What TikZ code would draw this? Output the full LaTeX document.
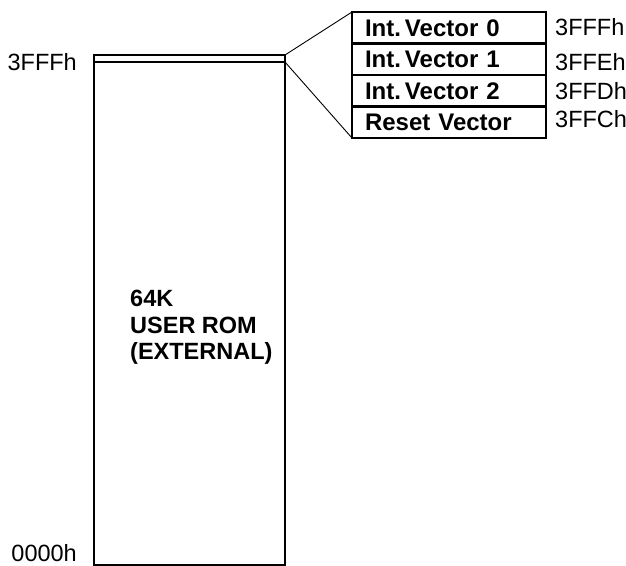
\documentclass[tikz,border=0pt]{standalone}
\usepackage{fontspec}
\setmainfont{Liberation Sans}
\usetikzlibrary{positioning}

\begin{document}
\begin{tikzpicture}[
    x=1pt, y=-1pt,
    font=\fontsize{23.5}{26}\selectfont,
    rombox/.style={draw, line width=2.6pt, rectangle, minimum width=191pt, minimum height=510pt, inner sep=0pt, outer sep=0pt},
    vecbox/.style={draw, line width=2.2pt, rectangle, minimum width=194pt, minimum height=31.5pt, text width=168pt, align=left, inner xsep=13pt, inner ysep=0pt, outer sep=0pt, font=\fontsize{24}{26}\selectfont\bfseries},
    addr/.style={inner sep=0pt, anchor=west},
    enlace/.style={line width=0.9pt}
]
    \useasboundingbox (0,0) rectangle (626,565);

    % MEMORIA PRINCIPAL
    \node[rombox, anchor=north west] (rom) at (94,55) {};
    \draw[line width=2.2pt] ([yshift=-7pt] rom.north west) -- ([yshift=-7pt] rom.north east)
        coordinate (romtop);
    \node[align=left, anchor=north west, inner sep=0pt, font=\fontsize{23.5}{26.5}\selectfont\bfseries] (romtxt) at (130,290)
        {64K\\USER ROM\\(EXTERNAL)};

    % DIRECCIONES DEL ROM
    \node[addr, anchor=east] (top) at (77,62) {3FFFh};
    \node[addr, anchor=east] (bot) at (77,553) {0000h};

    % TABLA DE VECTORES
    \node[vecbox, anchor=north west] (v0) at (352,12) {Int.\,Vector 0};
    \node[vecbox, below=0pt of v0] (v1) {Int.\,Vector 1};
    \node[vecbox, below=0pt of v1] (v2) {Int.\,Vector 2};
    \node[vecbox, below=0pt of v2] (v3) {Reset Vector};

    \node[addr] (a0) at ([xshift=9pt, yshift=1pt] v0.east) {3FFFh};
    \node[addr] (a1) at ([xshift=9pt, yshift=-3pt] v1.east) {3FFEh};
    \node[addr] (a2) at ([xshift=9pt] v2.east) {3FFDh};
    \node[addr] (a3) at ([xshift=9pt, yshift=3pt] v3.east) {3FFCh};

    % LINEAS DE AMPLIACION
    \draw[enlace] (rom.north east) -- (v0.north west);
    \draw[enlace] (romtop) -- (v3.south west);

\end{tikzpicture}
\end{document}
